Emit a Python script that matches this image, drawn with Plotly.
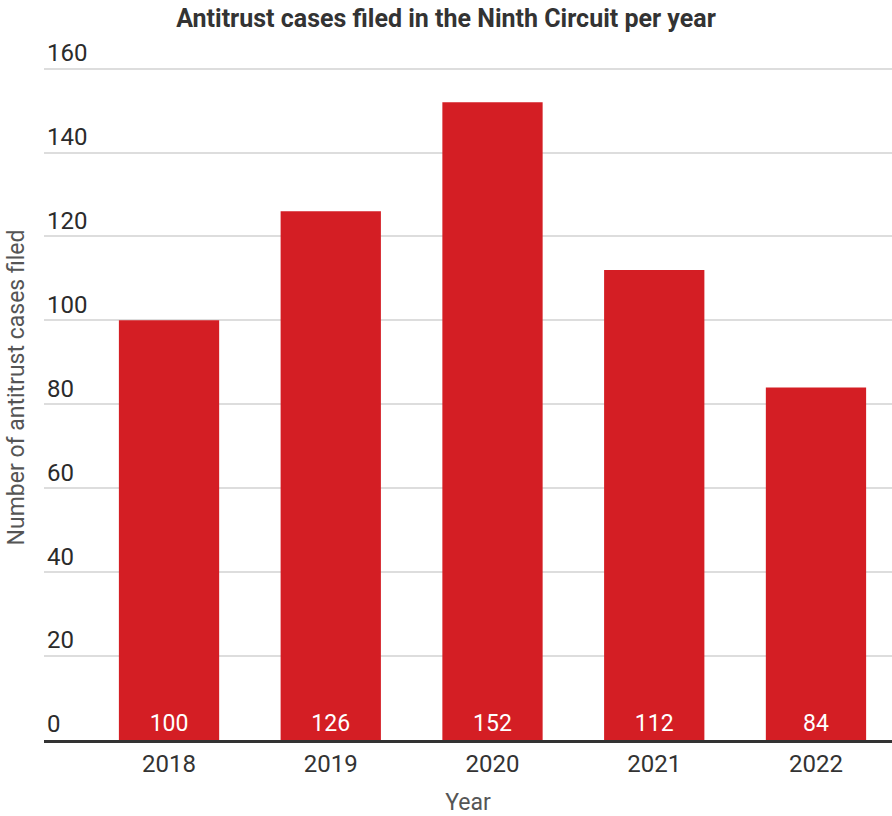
import plotly.graph_objects as go

years = ["2018", "2019", "2020", "2021", "2022"]
cases = [100, 126, 152, 112, 84]
y_ticks = [0, 20, 40, 60, 80, 100, 120, 140, 160]

fig = go.Figure(
    go.Bar(
        x=years,
        y=cases,
        marker=dict(color="#d41e24", line=dict(width=0)),
        text=[str(v) for v in cases],
        textposition="inside",
        insidetextanchor="start",
        textangle=0,
        textfont=dict(family="Roboto", size=23, color="white"),
        cliponaxis=False,
    )
)

fig.update_layout(
    width=892,
    height=816,
    margin=dict(l=44, r=0, t=35, b=76),
    paper_bgcolor="white",
    plot_bgcolor="white",
    bargap=0.38,
    showlegend=False,
    font=dict(family="Roboto", color="#333333"),
    title=dict(
        text="<b>Antitrust cases filed in the Ninth Circuit per year</b>",
        x=0.5,
        xanchor="center",
        y=0.978,
        yanchor="middle",
        font=dict(family="Roboto", size=25, color="#333333"),
    ),
    xaxis=dict(
        type="category",
        range=[-0.773, 4.47],
        showgrid=False,
        showline=True,
        linecolor="#333333",
        linewidth=3,
        ticks="",
        tickfont=dict(size=24, color="#333333"),
        title=dict(text="Year", font=dict(size=23, color="#555555"), standoff=18),
    ),
    yaxis=dict(
        range=[0, 168],
        tickvals=y_ticks,
        showgrid=True,
        gridcolor="#dddddd",
        gridwidth=2,
        zeroline=False,
        ticks="",
        ticklabelposition="inside",
        ticklabelstandoff=0,
        ticklabelshift=-16,
        tickfont=dict(size=24, color="#2b2b2b"),
        title=dict(text="Number of antitrust cases filed", font=dict(size=23, color="#555555"), standoff=15),
    ),
)

fig.write_html("out.html")
